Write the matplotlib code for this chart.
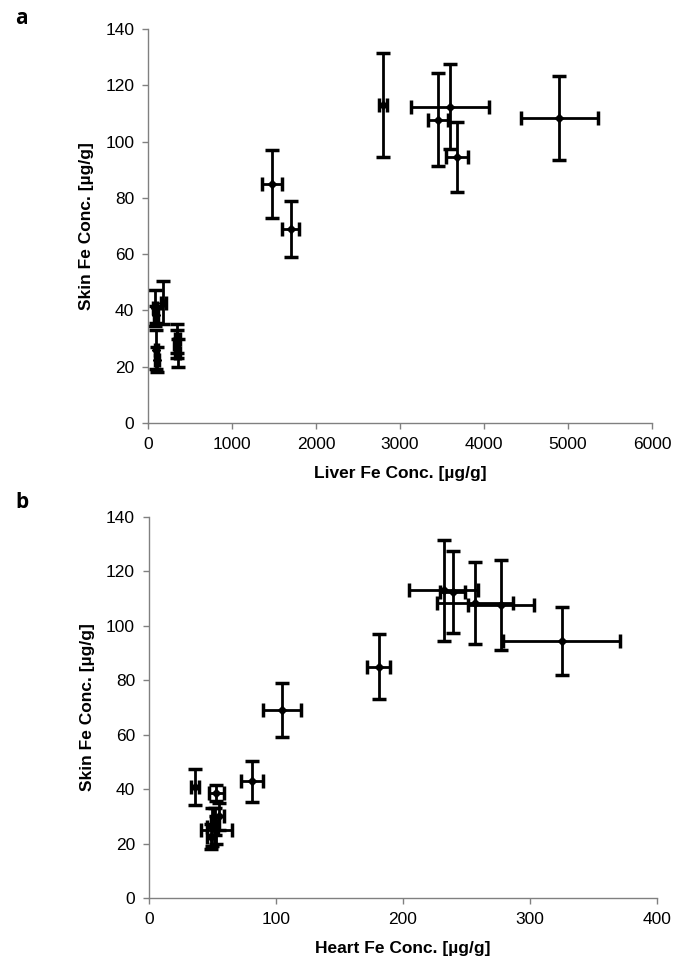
import matplotlib
matplotlib.use("Agg")
import matplotlib.pyplot as plt

plt.rcParams['font.family'] = ['Liberation Sans', 'DejaVu Sans']

# skin Fe per animal, with liver and heart Fe of the same animal
skin = [113, 112.4, 108.3, 107.7, 94.4, 85, 69, 42.8, 40.8, 38.5, 30, 28, 26, 25, 22.5]
skin_err = [18.5, 15, 15, 16.5, 12.5, 12, 10, 7.7, 6.5, 3, 5, 5, 7, 5, 4.5]

liver = [2800, 3595, 4897, 3456, 3675, 1480, 1700, 183, 83, 95, 349, 340, 100, 355, 105]
liver_err = [50, 465, 462, 120, 133, 120, 100, 30, 20, 20, 30, 30, 20, 30, 20]

heart = [232, 239, 257, 277, 325, 181, 105, 81, 36, 53, 55, 52, 50, 53, 49]
heart_err = [27, 10, 30, 26, 46, 9, 15, 8.5, 3, 6, 4, 3, 4, 12, 3]

fig = plt.figure(figsize=(6.76, 9.75), dpi=100)
ax1 = fig.add_axes([0.219, 0.5662, 0.7456, 0.4041])
ax2 = fig.add_axes([0.2204, 0.079, 0.7515, 0.3908])


def style(ax, xmax, xstep, xlabel):
    ax.set_xlim(0, xmax)
    ax.set_ylim(0, 140)
    ax.set_xticks(range(0, xmax + 1, xstep))
    ax.set_yticks(range(0, 141, 20))
    for s in ['top', 'right']:
        ax.spines[s].set_visible(False)
    for s in ['left', 'bottom']:
        ax.spines[s].set_color('#808080')
        ax.spines[s].set_linewidth(1)
    ax.tick_params(colors='#808080', labelcolor='black', length=4, width=1,
                   labelsize=12.5, pad=6)
    ax.set_xlabel(xlabel, fontsize=12.5, fontweight='bold', labelpad=10)
    ax.set_ylabel('Skin Fe Conc. [µg/g]', fontsize=12.5, fontweight='bold', labelpad=8)


for ax, x, xe in [(ax1, liver, liver_err), (ax2, heart, heart_err)]:
    ax.errorbar(x, skin, xerr=xe, yerr=skin_err, fmt='D', ms=4, color='black',
                ecolor='black', elinewidth=2, capsize=5, capthick=2.5, clip_on=False)

style(ax1, 6000, 1000, 'Liver Fe Conc. [µg/g]')
style(ax2, 400, 100, 'Heart Fe Conc. [µg/g]')

fig.text(15 / 676, 1 - 18 / 975, 'a', fontsize=15, fontweight='bold',
         family='Open Sans', va='center', ha='left')
fig.text(15 / 676, 1 - 503 / 975, 'b', fontsize=15, fontweight='bold',
         family='Open Sans', va='center', ha='left')

fig.savefig('out.png', dpi=100, facecolor='white')
